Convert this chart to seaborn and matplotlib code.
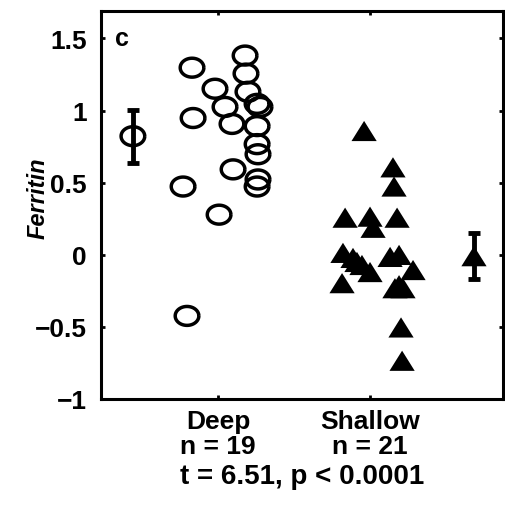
import numpy as np
import pandas as pd
import seaborn as sns
import matplotlib.pyplot as plt

# valores (x = posicion con dispersion, y = ferritina)
deep_x = [1.178, 0.829, 1.184, 0.980, 1.197, 1.257, 1.276, 1.046, 0.836, 1.092,
          1.257, 1.257, 1.263, 1.099, 1.263, 1.257, 0.770, 1.007, 0.796]
deep_y = [1.381, 1.297, 1.256, 1.151, 1.130, 1.046, 1.025, 1.025, 0.948, 0.907,
          0.892, 0.767, 0.697, 0.592, 0.522, 0.473, 0.473, 0.278, -0.424]

shallow_x = [1.961, 2.151, 2.158, 1.836, 2.000, 2.178, 2.020, 1.822, 1.888, 1.914,
             1.947, 2.000, 2.132, 2.191, 2.283, 1.816, 2.164, 2.191, 2.217, 2.204, 2.211]
shallow_y = [0.858, 0.606, 0.473, 0.257, 0.264, 0.257, 0.187, 0.013, -0.022, -0.050,
             -0.071, -0.120, -0.015, -0.001, -0.106, -0.197, -0.232, -0.211, -0.232, -0.504, -0.735]

# media y barras de error de cada grupo
mean_x = [0.44, 2.684]
mean_y = [0.822, -0.01]
err_lo = [0.635, -0.165]
err_hi = [1.004, 0.148]

cat_pos = [1, 2]
cat_labels = ['Deep\nn = 19', 'Shallow\nn = 21']
stat_text = 't = 6.51, p < 0.0001'

df_deep = pd.DataFrame({'x': deep_x, 'y': deep_y})
df_shallow = pd.DataFrame({'x': shallow_x, 'y': shallow_y})

sns.set_theme(style='ticks')
plt.rcParams['font.family'] = ['Liberation Sans', 'DejaVu Sans']
for k in ['text.color', 'axes.labelcolor', 'xtick.color', 'ytick.color', 'axes.edgecolor']:
    plt.rcParams[k] = 'black'

# marcadores algo achatados como en la figura original
t = np.linspace(0, 2 * np.pi, 60)
elipse = list(zip(np.cos(t), 0.8 * np.sin(t)))
triang = [(0, 0.8), (-1, -0.8), (1, -0.8), (0, 0.8)]

fig = plt.figure(figsize=(5.06, 5.06), dpi=100)
ax = fig.add_axes([0.1996, 0.2095, 0.7945, 0.7668])

sns.scatterplot(data=df_deep, x='x', y='y', marker=elipse, s=290,
                facecolors='none', edgecolor='black', linewidth=2.5, ax=ax, zorder=3)
sns.scatterplot(data=df_shallow, x='x', y='y', marker=triang, s=330,
                color='black', edgecolor='none', linewidth=0, ax=ax, zorder=3)

# medias con su intervalo
for i in range(2):
    ax.errorbar([mean_x[i]], [mean_y[i]],
                yerr=[[mean_y[i] - err_lo[i]], [err_hi[i] - mean_y[i]]],
                fmt='none', ecolor='black', elinewidth=3.5, capsize=4.5, capthick=3.5, zorder=2)
sns.scatterplot(x=[mean_x[0]], y=[mean_y[0]], marker=elipse, s=290,
                facecolors='none', edgecolor='black', linewidth=2.5, ax=ax, zorder=4)
sns.scatterplot(x=[mean_x[1]], y=[mean_y[1]], marker=triang, s=330,
                color='black', edgecolor='none', linewidth=0, ax=ax, zorder=4)

ax.set_xlim(0.23, 2.875)
ax.set_ylim(-1.0, 1.69)
ax.set_yticks([-1, -0.5, 0, 0.5, 1, 1.5])
ax.set_yticklabels(['\u22121', '\u22120.5', '0', '0.5', '1', '1.5'])
ax.set_xticks(cat_pos)
ax.set_xticklabels(cat_labels, linespacing=1.05)

for lab in ax.get_xticklabels() + ax.get_yticklabels():
    lab.set_fontsize(19)
    lab.set_fontweight('bold')

ax.tick_params(direction='in', top=True, right=True, length=3, width=2, color='black')
ax.tick_params(axis='y', pad=10)
ax.tick_params(axis='x', pad=7)
for sp in ax.spines.values():
    sp.set_visible(True)
    sp.set_linewidth(2.2)
    sp.set_color('black')

ax.set_xlabel(stat_text, fontsize=20, fontweight='bold', va='top')
ax.xaxis.set_label_coords(0.5, -0.165)
ax.set_ylabel('Ferritin', fontsize=17, fontweight='bold', fontstyle='italic')
ax.yaxis.set_label_coords(-0.128, 0.52)

ax.text(0.035, 0.93, 'c', transform=ax.transAxes, fontsize=18, fontweight='bold',
        ha='left', va='center')

if ax.get_legend() is not None:
    ax.get_legend().remove()

fig.savefig('out.png', dpi=100)
